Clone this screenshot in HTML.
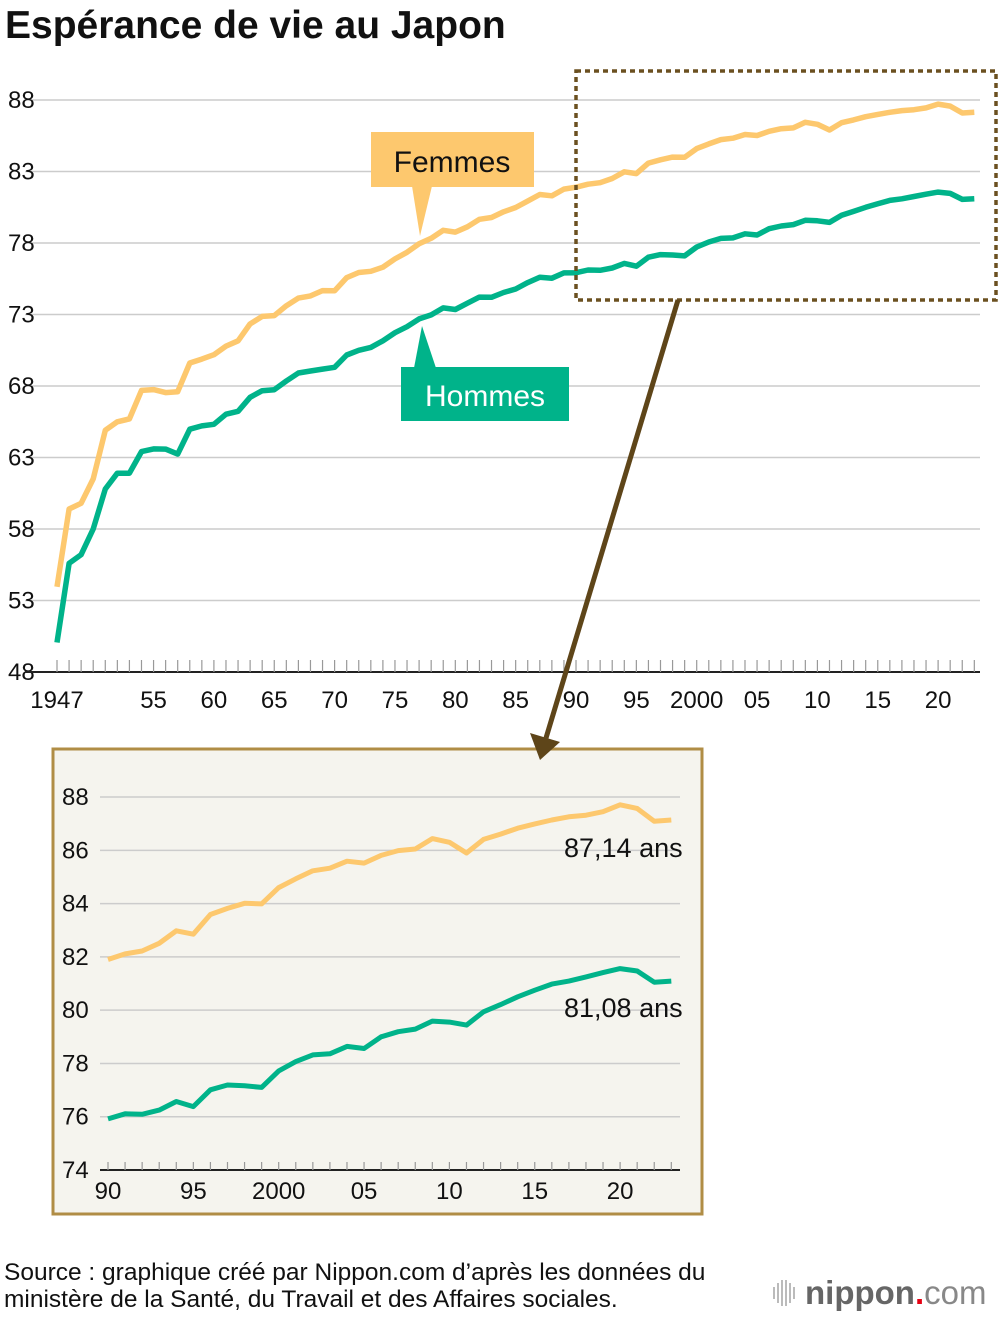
<!DOCTYPE html>
<html><head><meta charset="utf-8"><style>
body{margin:0;background:#fff;font-family:"Liberation Sans",sans-serif;}
svg text{font-family:"Liberation Sans",sans-serif;}
</style></head><body>
<svg id="c" width="1000" height="1314" viewBox="0 0 1000 1314" xmlns="http://www.w3.org/2000/svg">
<text x="5" y="38" font-size="39" font-weight="bold" fill="#111">Espérance de vie au Japon</text>
<g id="main"></g>
<rect x="53" y="749" width="649" height="465" fill="#f5f4ee" stroke="#b08d45" stroke-width="3"/>
<g id="inset"></g>
<rect x="576" y="71" width="420" height="229" fill="none" stroke="#6b5020" stroke-width="3.5" stroke-dasharray="5 4"/>
<line x1="678" y1="300" x2="546" y2="738" stroke="#5e4519" stroke-width="5"/>
<polygon points="540,760 530,733 560,742" fill="#5e4519"/>
<g>
<rect x="371" y="132" width="163" height="55" fill="#fdc86e"/>
<polygon points="412,186 432,186 420,236" fill="#fdc86e"/>
<text x="452" y="172" font-size="30" text-anchor="middle" fill="#111">Femmes</text></g>
<g>
<rect x="401" y="367" width="168" height="54" fill="#00b38a"/>
<polygon points="414,368 436,368 422,326" fill="#00b38a"/>
<text x="485" y="406" font-size="30" text-anchor="middle" fill="#fff">Hommes</text></g>
<text x="564" y="857" font-size="27" fill="#111">87,14 ans</text>
<text x="564" y="1017" font-size="27" fill="#111">81,08 ans</text>
<text x="4" y="1280" font-size="24.5" fill="#111">Source : graphique créé par Nippon.com d’après les données du</text>
<text x="4" y="1307" font-size="24.5" fill="#111">ministère de la Santé, du Travail et des Affaires sociales.</text>
<g>
<g stroke="#bbb" stroke-width="2"><line x1="774" y1="1287" x2="774" y2="1299"/><line x1="778" y1="1283" x2="778" y2="1303"/><line x1="782" y1="1280" x2="782" y2="1306"/><line x1="786" y1="1280" x2="786" y2="1306"/><line x1="790" y1="1283" x2="790" y2="1303"/><line x1="794" y1="1287" x2="794" y2="1299"/></g>
<text x="805" y="1304" font-size="33" font-weight="bold" fill="#666">nippon<tspan fill="#e60012">.</tspan><tspan font-weight="normal" fill="#888">com</tspan></text></g>
</svg>
<script>
const years=[];for(let y=1947;y<=2023;y++)years.push(y);
const female=[53.96,59.4,59.8,61.5,64.9,65.5,65.7,67.69,67.75,67.54,67.6,69.61,69.88,70.19,70.79,71.16,72.34,72.87,72.92,73.61,74.15,74.3,74.67,74.66,75.58,75.94,76.02,76.31,76.89,77.35,77.95,78.33,78.89,78.76,79.13,79.66,79.78,80.18,80.48,80.93,81.39,81.3,81.77,81.9,82.11,82.22,82.51,82.98,82.85,83.59,83.82,84.01,83.99,84.6,84.93,85.23,85.33,85.59,85.52,85.81,85.99,86.05,86.44,86.3,85.9,86.41,86.61,86.83,86.99,87.14,87.26,87.32,87.45,87.71,87.57,87.09,87.14];
const male=[50.06,55.6,56.2,58.0,60.8,61.9,61.9,63.41,63.6,63.59,63.24,64.98,65.21,65.32,66.03,66.23,67.21,67.67,67.74,68.35,68.91,69.05,69.18,69.31,70.17,70.5,70.7,71.16,71.73,72.15,72.69,72.97,73.46,73.35,73.79,74.22,74.2,74.54,74.78,75.23,75.61,75.54,75.91,75.92,76.11,76.09,76.25,76.57,76.38,77.01,77.19,77.16,77.1,77.72,78.07,78.32,78.36,78.64,78.56,79.0,79.19,79.29,79.59,79.55,79.44,79.94,80.21,80.5,80.75,80.98,81.09,81.25,81.41,81.56,81.47,81.05,81.09];
const mainYTicks=[48,53,58,63,68,73,78,83,88];
const mainXLabels=[[1947,"1947"],[1955,"55"],[1960,"60"],[1965,"65"],[1970,"70"],[1975,"75"],[1980,"80"],[1985,"85"],[1990,"90"],[1995,"95"],[2000,"2000"],[2005,"05"],[2010,"10"],[2015,"15"],[2020,"20"]];
const insetYTicks=[74,76,78,80,82,84,86,88];
const insetXLabels=[[1990,"90"],[1995,"95"],[2000,"2000"],[2005,"05"],[2010,"10"],[2015,"15"],[2020,"20"]];
const NS="http://www.w3.org/2000/svg";
function mk(p,t,a){const e=document.createElementNS(NS,t);for(const k in a)e.setAttribute(k,a[k]);p.appendChild(e);return e;}
const mx=y=>57+(y-1947)*12.07, my=v=>672-(v-48)*14.3;
const ix=y=>108+(y-1990)*17.07, iy=v=>1170-(v-74)*26.64;
function draw(g,X,Y,yt,xl,x0,x1,yr0,lw,fs,lblX,xlY,tickH){
 yt.forEach((v,i)=>{
  if(i>0){const l=mk(g,'line',{x1:x0,x2:x1,y1:Y(v),y2:Y(v),stroke:'#ccc','stroke-width':1.5});
  
  }
  const t=mk(g,'text',{x:lblX,y:Y(v)+8,'font-size':fs,fill:'#111'});t.textContent=v;
  
  
 });
 const ax=mk(g,'line',{x1:x0,x2:x1,y1:Y(yt[0]),y2:Y(yt[0]),stroke:'#222','stroke-width':2});
 
 
 for(let y=yr0;y<=2023;y++){const t=mk(g,'line',{x1:X(y),x2:X(y),y1:Y(yt[0]),y2:Y(yt[0])-tickH,stroke:'#999','stroke-width':1.2});
  
  }
 xl.forEach(([y,s])=>{const t=mk(g,'text',{x:X(y),y:xlY,'font-size':fs,'text-anchor':'middle',fill:'#111'});t.textContent=s;
  
  });
 [[female,'#fdc86e','female-line'],[male,'#00b38a','male-line']].forEach(([d,c,n])=>{
  let p='';years.forEach((y,i)=>{if(y>=yr0)p+=(p?'L':'M')+X(y).toFixed(1)+','+Y(d[i]).toFixed(1);});
  const e=mk(g,'path',{d:p,fill:'none',stroke:c,'stroke-width':lw,'stroke-linejoin':'round'});
  
  
 });
}
draw(document.getElementById('main'),mx,my,mainYTicks,mainXLabels,25,980,1947,5.5,24,8,708,12);
draw(document.getElementById('inset'),ix,iy,insetYTicks,insetXLabels,100,680,1990,5,24,62,1199,8);
</script>
</body></html>
